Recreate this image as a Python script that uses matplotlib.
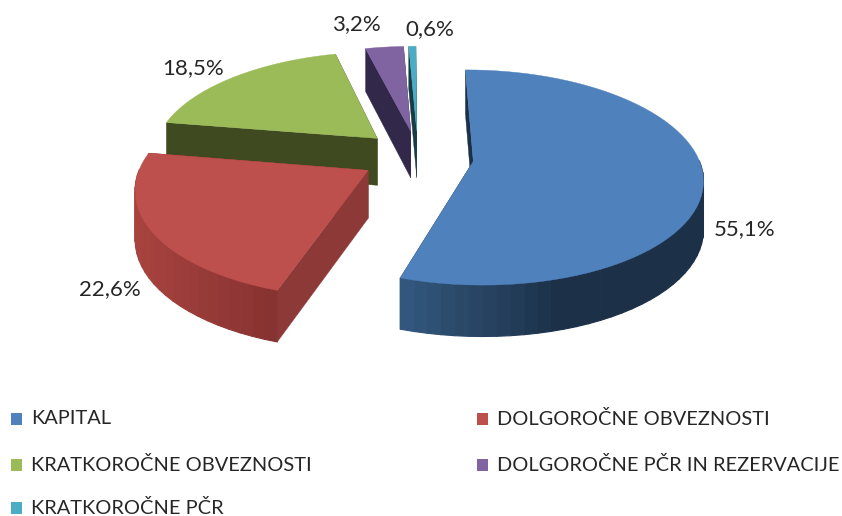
import numpy as np
import matplotlib
matplotlib.use("Agg")
import matplotlib.pyplot as plt
from matplotlib.patches import Polygon, Rectangle
from matplotlib.collections import PolyCollection
from matplotlib.colors import to_rgb

categories = ["KAPITAL", "DOLGOROČNE OBVEZNOSTI", "KRATKOROČNE OBVEZNOSTI",
              "DOLGOROČNE PČR IN REZERVACIJE", "KRATKOROČNE PČR"]
values = [55.1, 22.6, 18.5, 3.2, 0.6]
labels = ["55,1%", "22,6%", "18,5%", "3,2%", "0,6%"]

top_colors = ["#4F81BD", "#BD4F4C", "#9BBB59", "#8064A2", "#4BACC6"]
wall_left = ["#33587F", "#A8433F", "#6B8040", "#4A3A60", "#2C6676"]
wall_right = ["#1C3047", "#853230", "#5A6C33", "#3E3152", "#245562"]
cut_colors = ["#1C3047", "#8D3937", "#3F4A20", "#32284A", "#173C46"]

label_pos = [(745, 229), (110, 289), (193, 68), (356, 24), (430, 29)]
nudge = [(5, 7), (-2, 7), (-1, 4), (2, 4), (2, 4)]
legend_slots = [(11, 419), (477, 419), (11, 465), (477, 465), (11, 508)]

START = -0.3
EXPLODE = 0.234
CX, CY, SX, SY, PERSP = 416.0, 150.5, 225.0, 104.0, 0.15
DEPTH = 47.5


def project(X, Y, z=0.0):
    w = 1 + PERSP * Y
    sx = CX + SX * X / w
    sy = CY - SY * Y / w + z * DEPTH * (1 - 0.08 * Y)
    return sx, sy


fig = plt.figure(figsize=(8.42, 5.16), dpi=100)
ax = fig.add_axes([0, 0, 1, 1])
ax.set_xlim(0, 842)
ax.set_ylim(516, 0)
ax.axis("off")

shares = np.array(values) / sum(values) * 360
ends = START + np.cumsum(shares)
starts = ends - shares

for i in [4, 3, 2, 1, 0]:
    a0, a1 = np.radians(starts[i]), np.radians(ends[i])
    mid = (a0 + a1) / 2
    ox, oy = EXPLODE * np.sin(mid), EXPLODE * np.cos(mid)
    th = np.linspace(a0, a1, max(int(shares[i] / 3), 6) + 1)
    X = ox + np.sin(th)
    Y = oy + np.cos(th)
    dx, dy = nudge[i]
    tx, ty = project(X, Y)
    bx, by = project(X, Y, 1)
    tx, bx = tx + dx, bx + dx
    ty, by = ty + dy, by + dy
    px, py = project(ox, oy)
    qx, qy = project(ox, oy, 1)
    px, qx = px + dx, qx + dx
    py, qy = py + dy, qy + dy
    # the two radial cut faces
    for k in (0, -1):
        ax.add_patch(Polygon([(px, py), (tx[k], ty[k]), (bx[k], by[k]), (qx, qy)],
                             closed=True, fc=cut_colors[i], ec=cut_colors[i], lw=0.3))
    # rounded outer wall, only where it faces the viewer, shaded from left to right
    c0, c1 = np.array(to_rgb(wall_left[i])), np.array(to_rgb(wall_right[i]))
    polys, cols = [], []
    span = max(tx.max() - tx.min(), 1)
    for j in range(len(th) - 1):
        if np.cos((th[j] + th[j + 1]) / 2) > 0.02:
            continue
        polys.append([(tx[j], ty[j]), (tx[j + 1], ty[j + 1]), (bx[j + 1], by[j + 1]), (bx[j], by[j])])
        f = ((tx[j] + tx[j + 1]) / 2 - tx.min()) / span
        f = np.clip(f * 1.9 if i == 0 else f, 0, 1)
        cols.append(c0 + (c1 - c0) * f)
    if polys:
        ax.add_collection(PolyCollection(polys, facecolors=cols, edgecolors=cols, linewidths=0.8))
    # top face
    ax.add_patch(Polygon(np.r_[[(px, py)], np.c_[tx, ty]], closed=True,
                         fc=top_colors[i], ec=top_colors[i], lw=0.3))

for (x, y), s in zip(label_pos, labels):
    ax.text(x, y, s, ha="center", va="center", fontsize=16, family="Lato", color="#262626")

for (x, y), name, c in zip(legend_slots, categories, top_colors):
    ax.add_patch(Rectangle((x, y - 6), 11, 12, fc=c, ec="none"))
    ax.text(x + 20, y, name, ha="left", va="center", fontsize=14.4, family="Lato", color="#262626")

fig.savefig("out.png", dpi=100)
